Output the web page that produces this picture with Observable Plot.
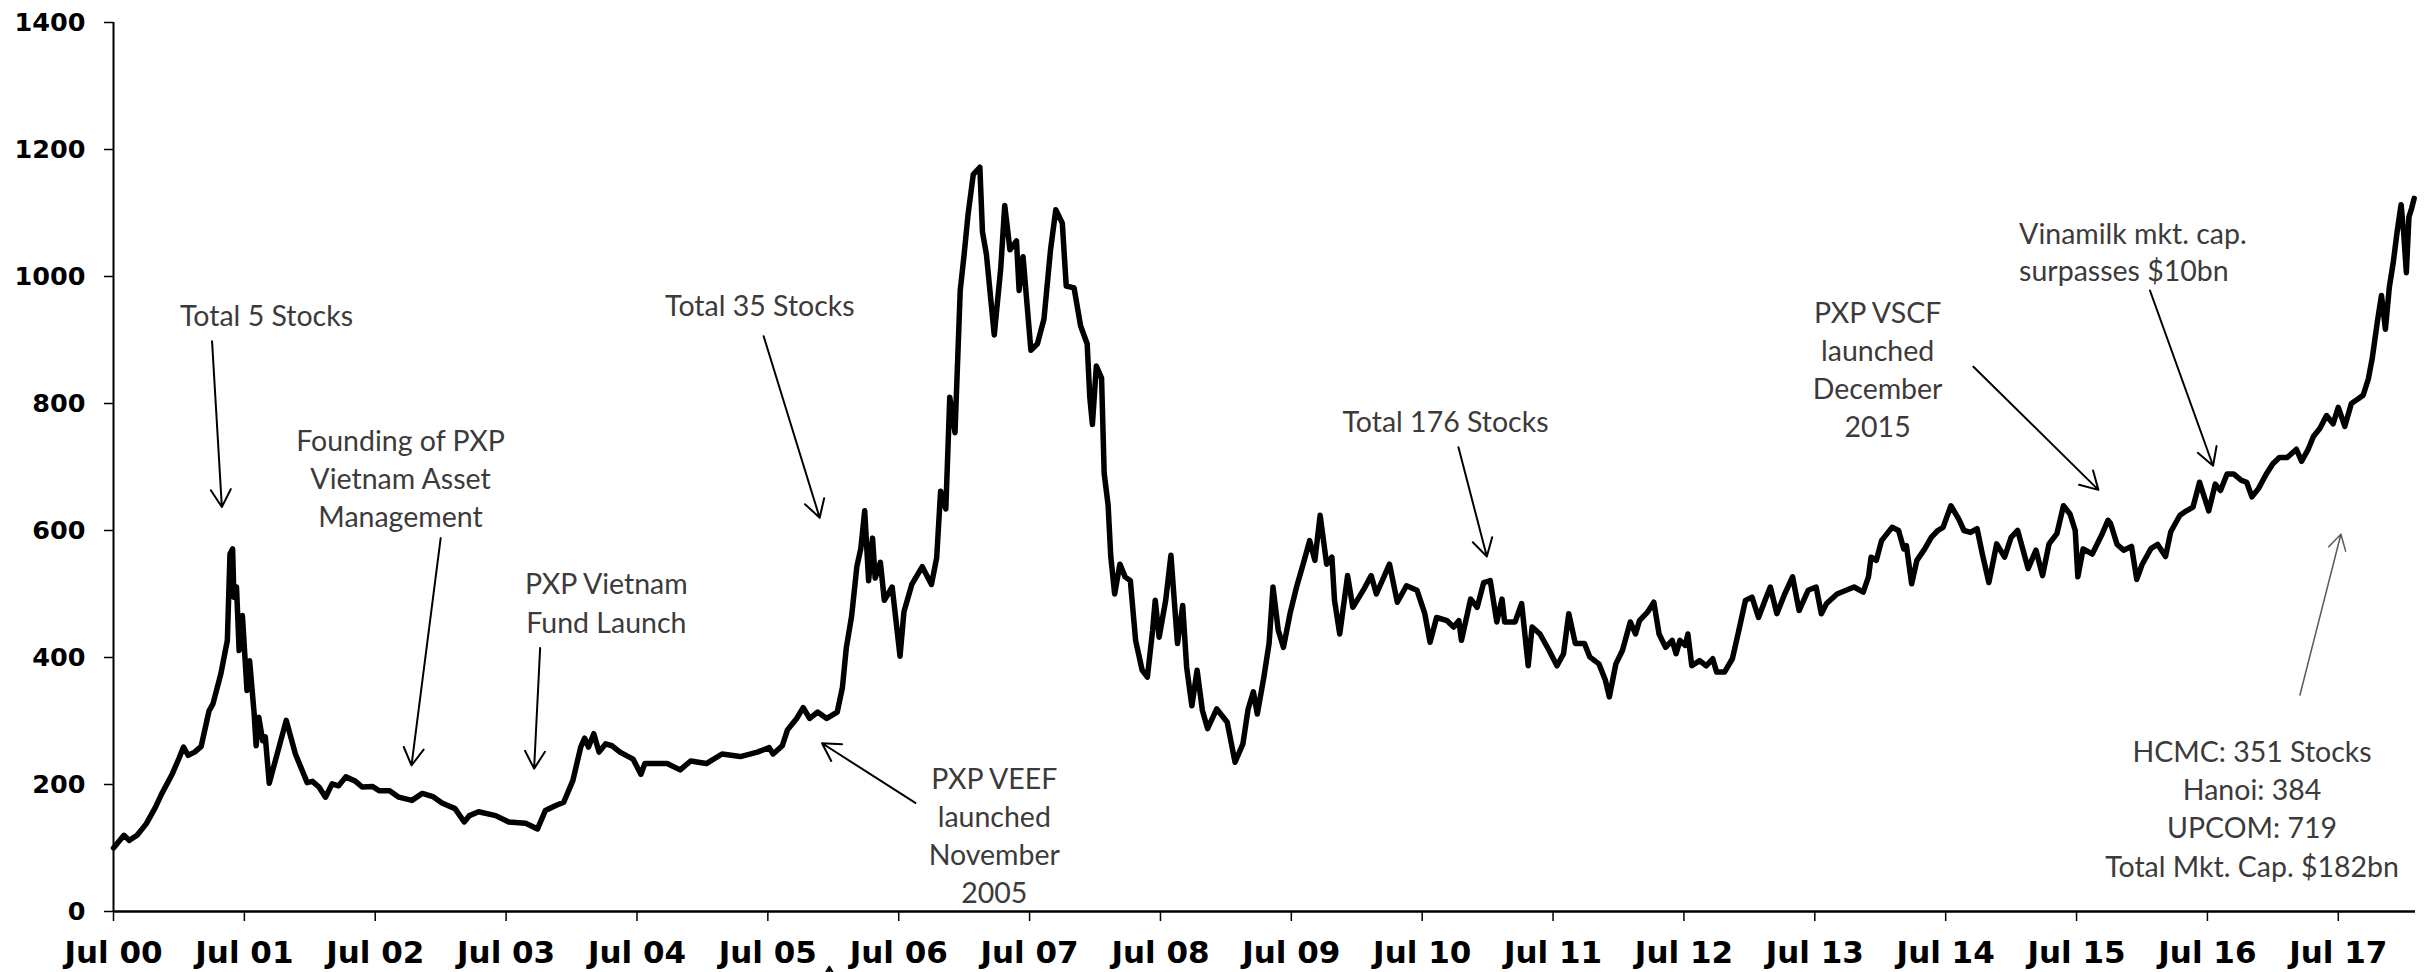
<!DOCTYPE html>
<html>
<head>
<meta charset="utf-8">
<script src="https://cdn.jsdelivr.net/npm/d3@7"></script>
<script src="https://cdn.jsdelivr.net/npm/@observablehq/plot@0.6"></script>
<style>
  html, body { margin: 0; padding: 0; background: #fff; }
  #chart { width: 2433px; height: 972px; overflow: hidden; }
</style>
</head>
<body>
<div id="chart"></div>
<script>
// ---- Series: VN-Index level, dates as decimal years ----
const decYear = [
  2000.50,2000.58,2000.62,2000.68,2000.75,2000.82,2000.87,2000.95,2001.00,2001.035,
  2001.07,2001.12,2001.17,2001.23,2001.26,2001.32,2001.37,2001.39,2001.41,2001.42,
  2001.44,2001.46,2001.485,2001.52,2001.54,2001.575,2001.59,2001.61,2001.64,2001.66,
  2001.69,2001.82,2001.89,2001.98,2002.02,2002.07,2002.12,2002.17,2002.22,2002.275,
  2002.35,2002.40,2002.48,2002.53,2002.61,2002.68,2002.78,2002.86,2002.94,2003.01,
  2003.11,2003.18,2003.22,2003.29,2003.42,2003.52,2003.65,2003.74,2003.80,2003.88,
  2003.94,2004.01,2004.07,2004.10,2004.13,2004.17,2004.21,2004.26,2004.31,2004.37,
  2004.47,2004.53,2004.56,2004.73,2004.83,2004.91,2005.03,2005.15,2005.29,2005.42,
  2005.51,2005.54,2005.61,2005.65,2005.72,2005.77,2005.82,2005.88,2005.95,2006.03,
  2006.07,2006.10,2006.14,2006.18,2006.21,2006.24,2006.27,2006.30,2006.32,2006.36,
  2006.39,2006.45,2006.51,2006.54,2006.60,2006.68,2006.75,2006.79,2006.82,2006.86,
  2006.89,2006.93,2006.97,2007.00,2007.03,2007.07,2007.12,2007.14,2007.17,2007.23,
  2007.28,2007.31,2007.35,2007.40,2007.42,2007.45,2007.51,2007.56,2007.61,2007.66,
  2007.70,2007.75,2007.78,2007.84,2007.89,2007.94,2007.96,2007.98,2008.01,2008.05,
  2008.07,2008.10,2008.12,2008.15,2008.19,2008.23,2008.27,2008.31,2008.36,2008.40,
  2008.44,2008.46,2008.49,2008.54,2008.58,2008.63,2008.67,2008.70,2008.74,2008.78,
  2008.82,2008.86,2008.93,2009.01,2009.07,2009.13,2009.17,2009.21,2009.24,2009.29,
  2009.33,2009.36,2009.40,2009.44,2009.49,2009.54,2009.59,2009.64,2009.68,2009.72,
  2009.77,2009.81,2009.83,2009.87,2009.93,2009.97,2010.05,2010.11,2010.15,2010.25,
  2010.31,2010.38,2010.46,2010.52,2010.56,2010.61,2010.69,2010.74,2010.78,2010.80,
  2010.87,2010.92,2010.97,2011.02,2011.07,2011.11,2011.13,2011.21,2011.26,2011.31,
  2011.34,2011.40,2011.47,2011.53,2011.58,2011.62,2011.67,2011.74,2011.78,2011.85,
  2011.90,2011.93,2011.98,2012.03,2012.09,2012.13,2012.16,2012.22,2012.27,2012.31,
  2012.36,2012.41,2012.44,2012.47,2012.51,2012.53,2012.56,2012.62,2012.67,2012.72,
  2012.75,2012.81,2012.87,2012.92,2012.97,2013.02,2013.07,2013.12,2013.16,2013.21,
  2013.27,2013.33,2013.38,2013.45,2013.51,2013.55,2013.59,2013.67,2013.80,2013.87,
  2013.91,2013.93,2013.97,2014.01,2014.09,2014.14,2014.18,2014.20,2014.24,2014.28,
  2014.34,2014.39,2014.44,2014.48,2014.54,2014.60,2014.64,2014.69,2014.74,2014.78,
  2014.83,2014.89,2014.95,2015.00,2015.05,2015.13,2015.19,2015.24,2015.29,2015.35,
  2015.40,2015.45,2015.49,2015.51,2015.55,2015.62,2015.69,2015.74,2015.76,2015.81,
  2015.86,2015.92,2015.96,2016.00,2016.07,2016.12,2016.18,2016.22,2016.29,2016.34,
  2016.39,2016.44,2016.51,2016.56,2016.60,2016.65,2016.70,2016.76,2016.80,2016.84,
  2016.89,2016.95,2017.00,2017.05,2017.11,2017.18,2017.22,2017.27,2017.31,2017.36,
  2017.41,2017.46,2017.50,2017.55,2017.60,2017.65,2017.69,2017.73,2017.76,2017.80,
  2017.83,2017.86,2017.89,2017.92,2017.95,2017.98,2018.00,2018.02,2018.04,2018.06,
  2018.08
];
const vnIndex = [
  100,120,112,120,138,164,186,217,241,259,
  246,251,260,316,327,374,427,563,571,495,
  511,411,466,348,395,311,261,306,269,275,
  202,301,248,203,205,196,180,201,198,212,
  205,196,197,190,190,180,175,186,181,171,
  162,141,151,157,151,141,139,130,159,167,
  172,206,259,273,259,280,251,264,261,251,
  240,216,233,233,223,237,233,248,244,251,
  258,248,261,286,304,321,304,314,304,314,
  353,416,465,543,571,631,521,588,525,550,
  490,511,402,472,515,543,515,557,662,634,
  810,754,978,1035,1098,1161,1172,1070,1035,908,
  1014,1112,1042,1056,978,1031,884,894,933,1042,
  1105,1084,985,982,922,894,810,767,859,840,
  690,640,560,500,547,527,521,427,380,369,
  443,490,432,490,561,422,482,385,324,380,
  317,288,319,298,235,264,319,346,311,369,
  422,511,443,416,469,511,547,584,553,624,
  547,558,490,437,529,479,506,529,500,547,
  487,513,506,469,424,463,458,448,458,427,
  492,479,518,521,456,492,456,456,485,387,
  448,437,411,387,406,469,422,422,401,390,
  364,338,390,411,456,437,458,471,487,437,
  416,427,406,427,419,437,387,395,387,398,
  377,377,398,443,490,495,463,490,511,469,
  500,527,474,506,511,469,485,500,511,503,
  527,558,553,584,605,600,571,576,516,553,
  571,589,600,605,639,618,600,597,603,563,
  518,579,558,589,600,540,569,529,579,595,
  639,626,600,527,571,563,592,616,611,578,
  569,575,523,546,572,578,559,598,624,631,
  637,676,631,673,663,689,689,679,676,653,
  666,689,705,715,715,728,709,728,748,761,
  781,768,794,764,800,807,813,839,872,931,
  970,917,983,1022,1071,1113,1068,1006,1094,1107,
  1123
];

// ---- Axes ----
const yTicks = [0, 200, 400, 600, 800, 1000, 1200, 1400];
const xTickValues = [2000.5,2001.5,2002.5,2003.5,2004.5,2005.5,2006.5,2007.5,2008.5,
                     2009.5,2010.5,2011.5,2012.5,2013.5,2014.5,2015.5,2016.5,2017.5];
const xTickLabels = ["Jul 00","Jul 01","Jul 02","Jul 03","Jul 04","Jul 05","Jul 06","Jul 07","Jul 08",
                     "Jul 09","Jul 10","Jul 11","Jul 12","Jul 13","Jul 14","Jul 15","Jul 16","Jul 17"];

// ---- Annotations (anchored in data units: decimal year, index level) ----
const annoText = [
  "Total 5 Stocks",
  "Founding of PXP\nVietnam Asset\nManagement",
  "PXP Vietnam\nFund Launch",
  "Total 35 Stocks",
  "PXP VEEF\nlaunched\nNovember\n2005",
  "Total 176 Stocks",
  "PXP VSCF\nlaunched\nDecember\n2015",
  "HCMC: 351 Stocks\nHanoi: 384\nUPCOM: 719\nTotal Mkt. Cap. $182bn"
];
const annoX = [2001.669, 2002.693, 2004.266, 2005.439, 2007.230, 2010.678, 2013.980, 2016.841];
const annoY = [965, 768, 542, 980, 236, 798, 970, 278];

const leftText = ["Vinamilk mkt. cap.\nsurpasses $10bn"];
const leftX = [2015.061];
const leftY = [1093];

const arrowX1 = [2001.253, 2003.000, 2003.760, 2005.468, 2006.627, 2010.777, 2014.712, 2016.061, 2005.970];
const arrowY1 = [898, 588, 415, 906, 171, 731, 858, 978, -124];
const arrowX2 = [2001.328, 2002.777, 2003.714, 2005.896, 2005.914, 2010.994, 2015.667, 2016.543, 2005.970];
const arrowY2 = [637, 230, 225, 620, 265, 559, 664, 702, -87];

const greyArrowX1 = [2017.207], greyArrowY1 = [341], greyArrowX2 = [2017.520], greyArrowY2 = [594];

// ---- Build tables ----
const series = decYear.map((d, i) => ({d, v: vnIndex[i]}));
const annos = annoText.map((t, i) => ({t, x: annoX[i], y: annoY[i]}));
const lefts = leftText.map((t, i) => ({t, x: leftX[i], y: leftY[i]}));
const arrows = arrowX1.map((x1, i) => ({x1, y1: arrowY1[i], x2: arrowX2[i], y2: arrowY2[i]}));
const greyArrows = greyArrowX1.map((x1, i) => ({x1, y1: greyArrowY1[i], x2: greyArrowX2[i], y2: greyArrowY2[i]}));

const textColor = "#3c3a3b";
const annoFont = "Lato";
const annoSize = 28.5;

const chart = Plot.plot({
  width: 2433,
  height: 972,
  marginLeft: 113,
  marginRight: 18,
  marginTop: 22,
  marginBottom: 61,
  x: {domain: [2000.5, 2018.09]},
  y: {domain: [0, 1400]},
  style: {background: "white", color: "black", fontFamily: "DejaVu Sans", overflow: "visible"},
  marks: [
    Plot.axisY({ticks: yTicks, tickSize: 9, tickPadding: 19, fontSize: 25.5, fontWeight: "bold",
                fontFamily: "DejaVu Sans", tickFormat: d => String(d), label: null, strokeWidth: 1.5,
                fill: "black", stroke: "black"}),
    Plot.axisX({ticks: xTickValues, tickSize: 10, tickPadding: 19, fontSize: 31, fontWeight: "bold",
                fontFamily: "DejaVu Sans", tickFormat: d => xTickLabels[xTickValues.indexOf(d)], label: null,
                strokeWidth: 1.5, fill: "black", stroke: "black"}),
    Plot.ruleX([2000.5], {y1: 0, y2: 1400, stroke: "black", strokeWidth: 2}),
    Plot.ruleY([0], {stroke: "black", strokeWidth: 2.5}),
    Plot.line(series, {x: "d", y: "v", stroke: "black", strokeWidth: 5.5,
                       strokeLinejoin: "round", strokeLinecap: "round"}),
    Plot.arrow(arrows, {x1: "x1", y1: "y1", x2: "x2", y2: "y2", stroke: "black",
                        strokeWidth: 2, headLength: 15, headAngle: 60}),
    Plot.arrow(greyArrows, {x1: "x1", y1: "y1", x2: "x2", y2: "y2", stroke: "#5a5a5a",
                            strokeWidth: 1.5, headLength: 17.5, headAngle: 60}),
    Plot.text(annos, {x: "x", y: "y", text: "t", textAnchor: "middle", lineAnchor: "top",
                      lineHeight: 1.34, fontFamily: annoFont, fontSize: annoSize, fill: textColor}),
    Plot.text(lefts, {x: "x", y: "y", text: "t", textAnchor: "start", lineAnchor: "top",
                      lineHeight: 1.31, fontFamily: annoFont, fontSize: annoSize, fill: textColor})
  ]
});
document.getElementById("chart").appendChild(chart);
</script>
</body>
</html>
